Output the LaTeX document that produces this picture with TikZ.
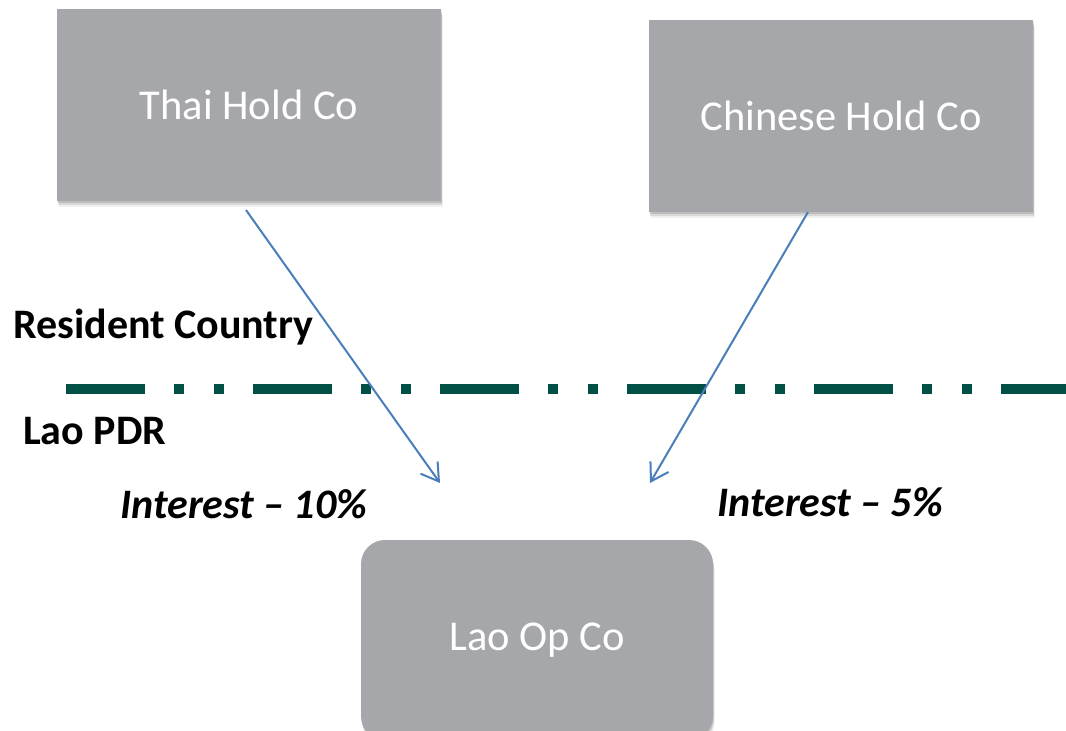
\documentclass[tikz,border=0pt]{standalone}
\usepackage{fontspec}
\setmainfont{Carlito}
\usetikzlibrary{arrows.meta,shadows}
\definecolor{boxgray}{RGB}{166,167,171}
\definecolor{linegreen}{RGB}{0,80,70}
\definecolor{arrowblue}{RGB}{74,126,187}
\tikzset{
  entity/.style={fill=boxgray, text=white, inner sep=0pt,
    font=\fontsize{42.5}{50}\selectfont,
    drop shadow={shadow xshift=0.5pt, shadow yshift=-2pt, opacity=0.12, fill=black},
    drop shadow={shadow xshift=1pt, shadow yshift=-4pt, opacity=0.10, fill=black},
    drop shadow={shadow xshift=1.5pt, shadow yshift=-6pt, opacity=0.06, fill=black}},
  label/.style={anchor=base west, inner sep=0pt, font=\fontsize{42}{50}\selectfont\bfseries},
  flow/.style={draw=arrowblue, line width=2pt, -{Straight Barb[length=17pt,width=21pt,line width=2pt]}}
}
\begin{document}
\begin{tikzpicture}[x=1pt,y=-1pt]
\useasboundingbox (0,0) rectangle (1066,731);
\clip (0,0) rectangle (1066,731);
\node[entity, minimum width=384pt, minimum height=192pt] (thai) at (249,105) {Thai Hold Co};
\node[entity, minimum width=384pt, minimum height=192pt] (china) at (841,116) {Chinese Hold Co};
\node[entity, rounded corners=24pt, minimum width=352pt, minimum height=200pt] (lao) at (537,640) {Lao Op Co};
\node[label] (res) at (13,338) {Resident Country};
\node[label] (pdr) at (23,444) {Lao PDR};
\node[label, font=\fontsize{42}{50}\selectfont\bfseries\itshape] (int10) at (120,518) {Interest – 10\%};
\node[label, font=\fontsize{42}{50}\selectfont\bfseries\itshape] (int5) at (717,516) {Interest – 5\%};
\coordinate (ls) at (66,389);
\coordinate (le) at (1066,389);
\draw[linegreen, line width=10pt, dash pattern=on 79pt off 29pt on 10pt off 30pt on 10pt off 29pt] (ls) -- (le);
\coordinate (t0) at (246,210);
\coordinate (t1) at (440,483);
\coordinate (c0) at (808,212);
\coordinate (c1) at (650,483);
\draw[flow] (t0) -- (t1);
\draw[flow] (c0) -- (c1);
\end{tikzpicture}
\end{document}
